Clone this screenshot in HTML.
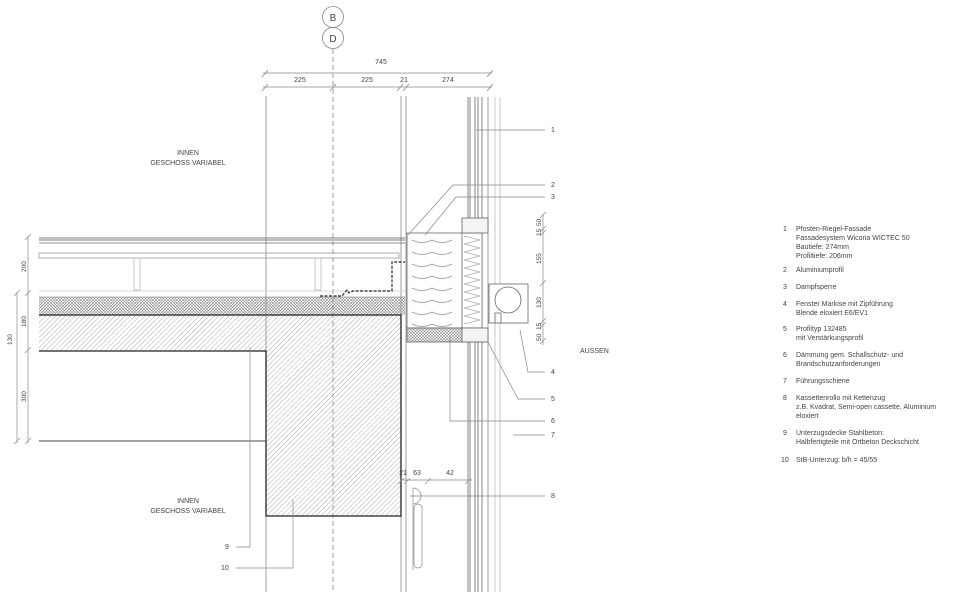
<!DOCTYPE html>
<html><head><meta charset="utf-8"><style>
html,body{margin:0;padding:0;background:#fff}
svg{display:block}
text{font-family:"Liberation Sans",sans-serif;fill:#444}
</style></head><body>
<svg width="960" height="592" viewBox="0 0 960 592" xmlns="http://www.w3.org/2000/svg">
<defs>
<pattern id="h1" width="3.5" height="3.5" patternUnits="userSpaceOnUse" patternTransform="rotate(45)">
<line x1="0" y1="0" x2="0" y2="3.5" stroke="#999" stroke-width="0.8"/></pattern>
<pattern id="h2" width="3" height="3" patternUnits="userSpaceOnUse">
<path d="M0 0L3 3M3 0L0 3" stroke="#888" stroke-width="0.55"/></pattern>
</defs>
<rect width="960" height="592" fill="#fff"/>
<g stroke="#888" fill="none" stroke-width="0.8">
<circle cx="333" cy="17" r="10.5"/><circle cx="333" cy="38" r="10.5"/>
<line x1="333" y1="49" x2="333" y2="592" stroke-dasharray="5,3"/>
<line x1="263" y1="73" x2="492" y2="73"/>
<line x1="263" y1="87" x2="492" y2="87"/>
<path d="M262 77l6-7M487 77l6-7M262 91l6-7M330 91l6-7M397 91l6-7M403 91l6-7M487 91l6-7"/>
<line x1="266" y1="96" x2="266" y2="592"/>
<line x1="401" y1="96" x2="401" y2="592"/>
<line x1="406" y1="96" x2="406" y2="592"/>
<g stroke="#666"><line x1="468" y1="97" x2="468" y2="592"/><line x1="470" y1="97" x2="470" y2="592"/>
<line x1="475" y1="97" x2="475" y2="592"/><line x1="478" y1="97" x2="478" y2="592"/>
<line x1="482" y1="97" x2="482" y2="592"/></g>
<line x1="488" y1="97" x2="488" y2="592"/>
<line x1="495" y1="97" x2="495" y2="592" stroke="#bbb"/>
<line x1="500" y1="97" x2="500" y2="592" stroke="#bbb"/>
<line x1="39" y1="238" x2="405" y2="238" stroke="#555"/>
<line x1="39" y1="240" x2="405" y2="240" stroke="#555"/>
<line x1="39" y1="243" x2="405" y2="243" stroke="#666"/>
<rect x="39" y="253" width="360" height="5" stroke="#999"/>
<rect x="134" y="258" width="6" height="32" stroke="#bbb"/>
<rect x="315" y="258" width="6" height="32" stroke="#bbb"/>
<line x1="39" y1="291" x2="405" y2="291" stroke="#ccc"/>
<path d="M320 296h22l5-6 2 3 4-2h39v-29h13" stroke="#222" stroke-dasharray="3,1.5" stroke-width="1.2"/>
</g>
<rect x="39" y="297" width="366" height="18" fill="url(#h2)"/>
<path d="M39 315H401V516H266V351H39Z" fill="url(#h1)"/>
<path d="M39 315H401V516H266V351H39" fill="none" stroke="#222" stroke-width="1.3"/>
<line x1="39" y1="441" x2="266" y2="441" stroke="#444" stroke-width="1"/>
<line x1="39" y1="297" x2="405" y2="297" stroke="#777" stroke-width="0.6"/>
<g stroke="#666" fill="#fff" stroke-width="0.8">
<rect x="407" y="233" width="75" height="95"/>
<rect x="407" y="328" width="75" height="14" fill="url(#h2)"/>
<rect x="462" y="218" width="26" height="15" fill="#f4f4f4"/>
<rect x="462" y="328" width="26" height="14" fill="#f4f4f4"/>
<line x1="462" y1="233" x2="462" y2="328"/>
<path d="M412 240q10 5 20 0q10 5 20 0M412 252q10 5 20 0q10 5 20 0M412 264q10 5 20 0q10 5 20 0M412 276q10 5 20 0q10 5 20 0M412 288q10 5 20 0q10 5 20 0M412 300q10 5 20 0q10 5 20 0M412 312q10 5 20 0q10 5 20 0M412 324q10 5 20 0q10 5 20 0" fill="none" stroke="#999"/>
<path d="M464 236l16 4-16 4 16 4-16 4 16 4-16 4 16 4-16 4 16 4-16 4 16 4-16 4 16 4-16 4 16 4-16 4 16 4-16 4 16 4-16 4 16 4-16 4" fill="none" stroke="#aaa"/>
<rect x="489" y="284" width="39" height="39"/>
<circle cx="508" cy="300" r="13"/>
<rect x="495" y="313" width="6" height="10"/>
</g>
<g stroke="#888" stroke-width="0.7" fill="none">
<line x1="543" y1="214" x2="543" y2="345"/>
<path d="M540 218l6-6M540 232l6-6M540 236l6-6M540 286l6-6M540 324l6-6M540 328l6-6M540 344l6-6"/>
<line x1="28" y1="236" x2="28" y2="443"/><line x1="17" y1="292" x2="17" y2="443"/>
<path d="M25 240l6-6M25 296l6-6M25 353l6-6M25 444l6-6M14 296l6-6M14 444l6-6"/>
<line x1="400" y1="480" x2="472" y2="480"/>
<path d="M398 484l6-6M404 484l6-6M425 484l6-6M465 484l6-6"/>
<path d="M413 488a8 8 0 0 1 0 16" /><line x1="413" y1="488" x2="413" y2="570"/>
<rect x="414" y="504" width="8" height="64" rx="4"/>
<line x1="476" y1="130" x2="545" y2="130"/>
<path d="M408 235L453 185H545M425 235L456 197H545"/>
<path d="M520 330L528 372H545M488 342L518 399H545M450 337V421H545M513 435H545M410 496H545"/>
<path d="M236 547H250V347M236 568H293V500"/>
</g>
<g font-size="7">
<text x="381" y="64" text-anchor="middle">745</text>
<text x="300" y="82" text-anchor="middle">225</text>
<text x="367" y="82" text-anchor="middle">225</text>
<text x="404" y="82" text-anchor="middle">21</text>
<text x="448" y="82" text-anchor="middle">274</text>
<text x="403" y="475" text-anchor="middle">21</text>
<text x="417" y="475" text-anchor="middle">63</text>
<text x="450" y="475" text-anchor="middle">42</text>
<text x="551" y="132">1</text><text x="551" y="187">2</text><text x="551" y="199">3</text>
<text x="551" y="374">4</text><text x="551" y="401">5</text><text x="551" y="423">6</text>
<text x="551" y="437">7</text><text x="551" y="498">8</text>
<text x="225" y="549">9</text><text x="221" y="570">10</text>
<g font-size="6.5">
<text transform="translate(541,226) rotate(-90)">50</text>
<text transform="translate(541,236) rotate(-90)">15</text>
<text transform="translate(541,264) rotate(-90)">155</text>
<text transform="translate(541,308) rotate(-90)">130</text>
<text transform="translate(541,330) rotate(-90)">15</text>
<text transform="translate(541,341) rotate(-90)">50</text>
<text transform="translate(26,272) rotate(-90)">200</text>
<text transform="translate(26,327) rotate(-90)">180</text>
<text transform="translate(26,402) rotate(-90)">300</text>
<text transform="translate(12,345) rotate(-90)">130</text>
</g>
<text x="188" y="155" text-anchor="middle">INNEN</text>
<text x="188" y="165" text-anchor="middle">GESCHOSS VARIABEL</text>
<text x="188" y="503" text-anchor="middle">INNEN</text>
<text x="188" y="513" text-anchor="middle">GESCHOSS VARIABEL</text>
<text x="580" y="353">AUSSEN</text>
</g>
<g font-size="7">
<text x="783" y="231">1</text><text x="796" y="231">Pfosten-Riegel-Fassade</text>
<text x="796" y="240">Fassadesystem Wicona WICTEC 50</text>
<text x="796" y="249">Bautiefe: 274mm</text>
<text x="796" y="258">Profiltiefe: 206mm</text>
<text x="783" y="272">2</text><text x="796" y="272">Aluminiumprofil</text>
<text x="783" y="289">3</text><text x="796" y="289">Dampfsperre</text>
<text x="783" y="306">4</text><text x="796" y="306">Fenster Markise mit Zipführung</text>
<text x="796" y="315">Blende eloxiert E6/EV1</text>
<text x="783" y="331">5</text><text x="796" y="331">Profiltyp 132485</text>
<text x="796" y="340">mit Verstärkungsprofil</text>
<text x="783" y="357">6</text><text x="796" y="357">Dämmung gem. Schallschutz- und</text>
<text x="796" y="366">Brandschutzanforderungen</text>
<text x="783" y="383">7</text><text x="796" y="383">Führungsschiene</text>
<text x="783" y="400">8</text><text x="796" y="400">Kassettenrollo mit Kettenzug</text>
<text x="796" y="409">z.B. Kvadrat, Semi-open cassette, Aluminium</text>
<text x="796" y="418">eloxiert</text>
<text x="783" y="435">9</text><text x="796" y="435">Unterzugsdecke Stahlbeton:</text>
<text x="796" y="444">Halbfertigteile mit Ortbeton Deckschicht</text>
<text x="781" y="462">10</text><text x="796" y="462">StB-Unterzug: b/h = 45/55</text>
</g>
<text x="333" y="21" font-size="10" text-anchor="middle">B</text>
<text x="333" y="42" font-size="10" text-anchor="middle">D</text>
</svg>
</body></html>
